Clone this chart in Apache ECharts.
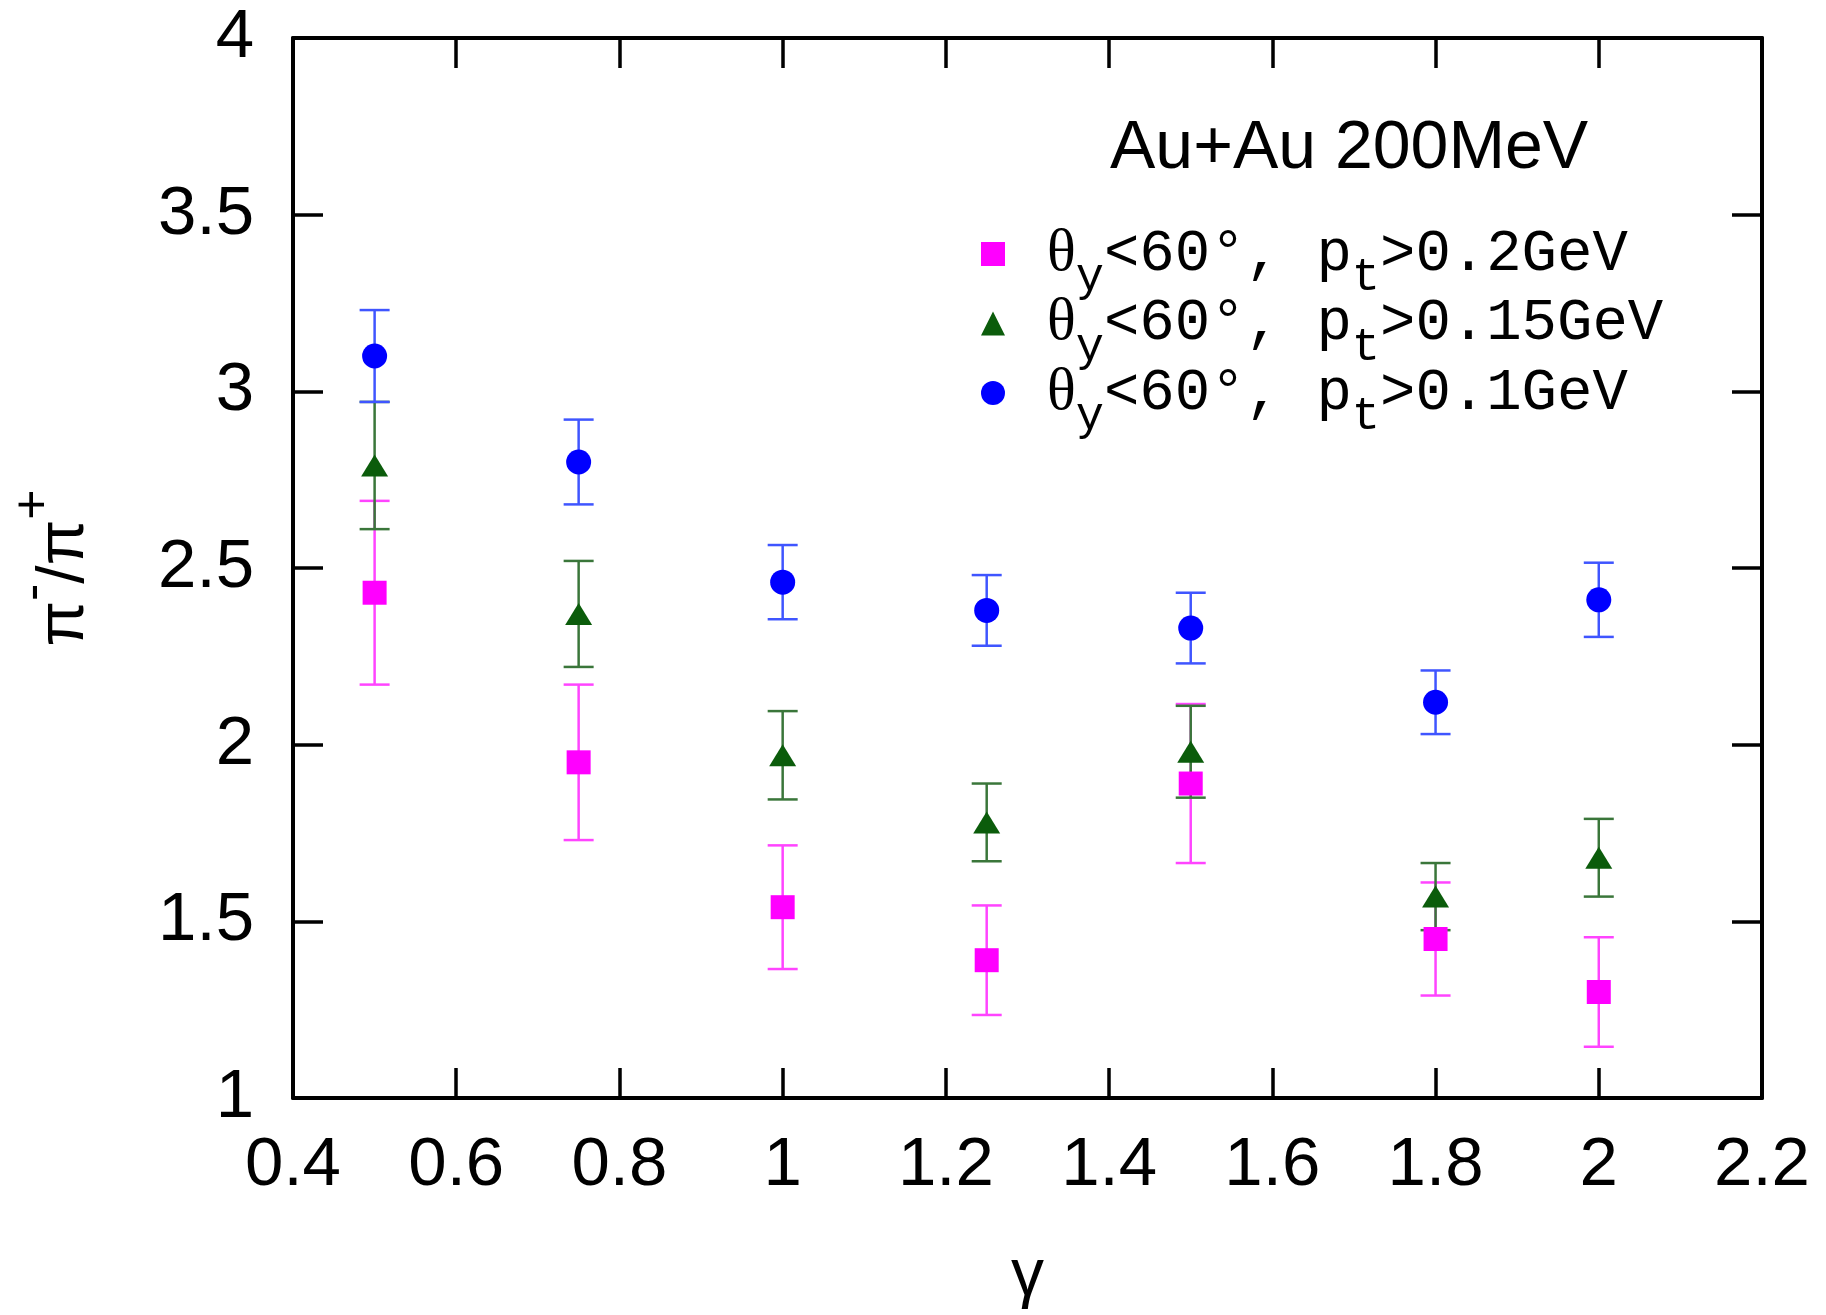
<!DOCTYPE html>
<html>
<head>
<meta charset="utf-8">
<script src="https://cdn.jsdelivr.net/npm/echarts@6/dist/echarts.min.js"></script>
<style>
html,body{margin:0;padding:0;background:#fff;}
#chart{width:1826px;height:1315px;}
</style>
</head>
<body>
<div id="chart"></div>
<script>
// ---- data ----
var gamma = [0.5, 0.75, 1.0, 1.25, 1.5, 1.8, 2.0];

var seriesNames = ['pt>0.2GeV', 'pt>0.15GeV', 'pt>0.1GeV'];
var ptCuts = ['0.2', '0.15', '0.1'];

var ratioPt02  = [2.43, 1.95, 1.54, 1.39, 1.89, 1.45, 1.30];
var errPt02    = [0.26, 0.22, 0.175, 0.155, 0.225, 0.16, 0.155];

var ratioPt015 = [2.79, 2.37, 1.97, 1.78, 1.98, 1.57, 1.68];
var errPt015   = [0.18, 0.15, 0.125, 0.11, 0.13, 0.095, 0.11];

var ratioPt01  = [3.10, 2.80, 2.46, 2.38, 2.33, 2.12, 2.41];
var errPt01    = [0.13, 0.12, 0.105, 0.10, 0.10, 0.09, 0.105];

var xTicks = {min: 0.4, max: 2.2, interval: 0.2};
var yTicks = {min: 1, max: 4, interval: 0.5};

// ---- build ----
function pts(vals) { return gamma.map(function (g, i) { return [g, vals[i]]; }); }
function errs(vals, e) { return gamma.map(function (g, i) { return [g, vals[i], e[i]]; }); }

function errorBar(color) {
  return function (params, api) {
    var x = api.value(0), y = api.value(1), e = api.value(2);
    var hi = api.coord([x, y + e]);
    var lo = api.coord([x, y - e]);
    var cap = 15;
    var st = {stroke: color, lineWidth: 2.5};
    return {
      type: 'group',
      children: [
        {type: 'line', shape: {x1: hi[0], y1: hi[1], x2: lo[0], y2: lo[1]}, style: st},
        {type: 'line', shape: {x1: hi[0] - cap, y1: hi[1], x2: hi[0] + cap, y2: hi[1]}, style: st},
        {type: 'line', shape: {x1: lo[0] - cap, y1: lo[1], x2: lo[0] + cap, y2: lo[1]}, style: st}
      ]
    };
  };
}

var markerColors = ['#ff00ff', '#0b5c0b', '#0000ff'];
var barColors = ['#ff44ff', '#3a763a', '#3f55ff'];
var symbols = ['rect', 'triangle', 'circle'];
var symbolSizes = [24, [27, 22], 25];
var valueSets = [ratioPt02, ratioPt015, ratioPt01];
var errSets = [errPt02, errPt015, errPt01];

var series = [];
for (var k = 0; k < 3; k++) {
  series.push({
    type: 'custom',
    name: seriesNames[k] + '_err',
    renderItem: errorBar(barColors[k]),
    data: errs(valueSets[k], errSets[k]),
    encode: {x: 0, y: 1},
    silent: true
  });
  series.push({
    type: 'scatter',
    name: seriesNames[k],
    symbol: symbols[k],
    symbolSize: symbolSizes[k],
    itemStyle: {color: markerColors[k], opacity: 1},
    data: pts(valueSets[k])
  });
}

var axisLineStyle = {color: '#000', width: 4};
var tickStyle = {color: '#000', width: 3.5};
var labelFont = {fontFamily: 'Liberation Sans', fontSize: 69, color: '#000'};

var chart = echarts.init(document.getElementById('chart'), null, {renderer: 'canvas'});
chart.setOption({
  backgroundColor: '#fff',
  animation: false,
  grid: {left: 293, right: 64, top: 38, bottom: 215, containLabel: false},
  title: {
    text: 'Au+Au 200MeV',
    left: 1110, top: 115, padding: 0,
    textStyle: {fontFamily: 'Liberation Sans', fontSize: 68, fontWeight: 'normal', color: '#000'}
  },
  legend: {
    data: seriesNames,
    orient: 'vertical',
    left: 981, top: 224, padding: 0,
    itemWidth: 24, itemHeight: 24, itemGap: -8,
    selectedMode: false,
    formatter: function (name) {
      var c = ptCuts[seriesNames.indexOf(name)];
      return '{f|θ}{s|y}{n|<60°, p}{s|t}{n|>' + c + 'GeV}';
    },
    textStyle: {
      color: '#000',
      rich: {
        f: {fontFamily: 'Liberation Serif', fontSize: 60, lineHeight: 60, padding: [0, 0, 0, 37], color: '#000'},
        n: {fontFamily: 'Liberation Mono', fontSize: 59, lineHeight: 60, color: '#000'},
        s: {fontFamily: 'Liberation Mono', fontSize: 47, height: 12, lineHeight: 12, verticalAlign: 'bottom', color: '#000'}
      }
    }
  },
  xAxis: [{
    type: 'value', position: 'bottom',
    min: xTicks.min, max: xTicks.max, interval: xTicks.interval,
    axisLine: {show: true, onZero: false, lineStyle: axisLineStyle},
    axisTick: {show: true, inside: true, length: 30, lineStyle: tickStyle},
    axisLabel: Object.assign({margin: 33}, labelFont),
    splitLine: {show: false},
    name: 'γ', nameLocation: 'middle', nameGap: 146,
    nameTextStyle: {fontFamily: 'Liberation Sans', fontSize: 66, color: '#000'}
  }, {
    type: 'value', position: 'top',
    min: xTicks.min, max: xTicks.max, interval: xTicks.interval,
    axisLine: {show: true, onZero: false, lineStyle: axisLineStyle},
    axisTick: {show: true, inside: true, length: 30, lineStyle: tickStyle},
    axisLabel: {show: false},
    splitLine: {show: false}
  }],
  yAxis: [{
    type: 'value', position: 'left',
    min: yTicks.min, max: yTicks.max, interval: yTicks.interval,
    axisLine: {show: true, onZero: false, lineStyle: axisLineStyle},
    axisTick: {show: true, inside: true, length: 30, lineStyle: tickStyle},
    axisLabel: Object.assign({margin: 39}, labelFont),
    splitLine: {show: false},
    name: '{a|π}{s|-}{a|/π}{s|+}',
    nameLocation: 'middle', nameRotate: 90, nameGap: 195,
    nameTextStyle: {
      rich: {
        a: {fontFamily: 'Liberation Sans', fontSize: 66, lineHeight: 66, color: '#000'},
        s: {fontFamily: 'Liberation Sans', fontSize: 52, height: 6, lineHeight: 6, verticalAlign: 'top', color: '#000'}
      }
    }
  }, {
    type: 'value', position: 'right',
    min: yTicks.min, max: yTicks.max, interval: yTicks.interval,
    axisLine: {show: true, onZero: false, lineStyle: axisLineStyle},
    axisTick: {show: true, inside: true, length: 30, lineStyle: tickStyle},
    axisLabel: {show: false},
    splitLine: {show: false}
  }],
  series: series
});
</script>
</body>
</html>
